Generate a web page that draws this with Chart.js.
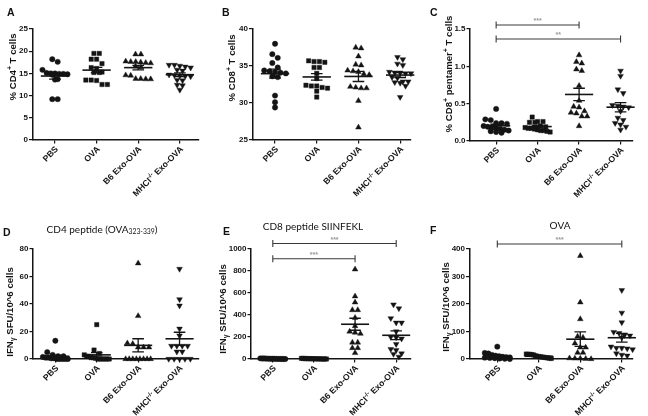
<!DOCTYPE html>
<html><head><meta charset="utf-8">
<script src="https://cdn.jsdelivr.net/npm/chart.js@4"></script>
<style>
body{margin:0;background:#fff;width:648px;height:416px;position:relative;overflow:hidden}
canvas{position:absolute}
.lt{position:absolute;font:bold 10.5px "Liberation Sans",Arial,sans-serif;line-height:10px;color:#111}
.tt{position:absolute;font:10px Lato,"Open Sans",sans-serif;line-height:1;color:#111;transform:translate(-50%,-50%);white-space:nowrap}
.tt sub{font-size:6.8px;vertical-align:-1px}
</style></head><body>
<canvas id="cA" width="216" height="200" style="left:0;top:0"></canvas>
<canvas id="cB" width="216" height="200" style="left:216px;top:0"></canvas>
<canvas id="cC" width="216" height="200" style="left:432px;top:0"></canvas>
<canvas id="cD" width="216" height="216" style="left:0;top:200px"></canvas>
<canvas id="cE" width="216" height="216" style="left:216px;top:200px"></canvas>
<canvas id="cF" width="216" height="216" style="left:432px;top:200px"></canvas>
<div class="lt" style="left:7px;top:7px">A</div>
<div class="lt" style="left:222px;top:7px">B</div>
<div class="lt" style="left:430px;top:7px">C</div>
<div class="lt" style="left:3px;top:227px">D</div>
<div class="lt" style="left:223px;top:226px">E</div>
<div class="lt" style="left:430px;top:225px">F</div>
<div class="tt" style="left:102px;top:229px">CD4 peptide (OVA<sub>323-339</sub>)</div>
<div class="tt" style="left:313px;top:226px">CD8 peptide SIINFEKL</div>
<div class="tt" style="left:560px;top:225px">OVA</div>
<script>
// ---------- categories / labels ----------
const groupNames = ['PBS', 'OVA', 'B6 Exo-OVA', 'MHCI^{-/-} Exo-OVA'];

// ---------- A: % CD4+ T cells ----------
const cd4_PBS = [18.2, 17.6, 15.8, 15.1, 15.0, 15.0, 14.9, 14.9, 14.8, 14.7, 13.7, 13.6, 9.2, 9.2];
const cd4_OVA = [19.5, 19.5, 18.2, 18.2, 17.2, 16.3, 16.1, 15.3, 15.2, 15.2, 13.5, 13.5, 13.4, 12.5, 12.5];
const cd4_B6 = [19.3, 19.3, 17.7, 17.6, 17.5, 17.4, 17.3, 17.6, 16.6, 16.4, 14.6, 14.5, 13.8, 13.7, 13.8, 13.7];
const cd4_MHC = [16.9, 16.7, 16.5, 16.9, 16.3, 15.8, 15.6, 14.7, 14.5, 14.3, 14.6, 14.4, 13.5, 13.4, 12.4, 12.3, 11.3];
const ticksA = [0, 5, 10, 15, 20, 25];

// ---------- B: % CD8+ T cells ----------
const cd8_PBS = [38.0, 36.6, 36.1, 35.4, 34.8, 34.2, 34.1, 34.0, 34.3, 34.4, 33.6, 33.5, 31.0, 30.1, 29.4];
const cd8_OVA = [35.6, 35.7, 35.5, 35.6, 34.8, 34.8, 34.0, 33.3, 32.3, 32.1, 32.0, 32.3, 32.4, 31.6, 30.8];
const cd8_B6 = [37.4, 37.5, 36.3, 35.2, 35.1, 34.3, 34.4, 34.2, 33.9, 33.8, 32.1, 32.0, 32.0, 32.2, 30.3, 26.7];
const cd8_MHC = [36.2, 35.9, 35.1, 35.3, 34.1, 34.0, 34.2, 34.0, 34.1, 33.5, 33.4, 32.9, 32.7, 32.9, 32.8, 32.3, 30.8];
const ticksB = [25, 30, 35, 40];

// ---------- C: % CD8+ pentamer+ T cells ----------
const pent_PBS = [0.43, 0.29, 0.28, 0.24, 0.23, 0.24, 0.20, 0.19, 0.18, 0.17, 0.16, 0.15, 0.14, 0.13, 0.12, 0.11];
const pent_OVA = [0.32, 0.26, 0.25, 0.25, 0.26, 0.20, 0.19, 0.18, 0.17, 0.17, 0.16, 0.15, 0.14, 0.14, 0.13, 0.12];
const pent_B6 = [1.15, 1.06, 1.04, 0.96, 0.94, 0.74, 0.54, 0.46, 0.45, 0.40, 0.38, 0.37, 0.33, 0.33, 0.20];
const pent_MHC = [0.94, 0.87, 0.69, 0.64, 0.48, 0.47, 0.46, 0.45, 0.40, 0.31, 0.28, 0.24, 0.22, 0.19, 0.15];
const ticksC = [0, 0.5, 1.0, 1.5];

// ---------- D: IFNg, CD4 peptide ----------
const cd4pep_PBS = [13.3, 5.0, 3.0, 2.0, 2.0, 1.5, 1.0, 1.0, 0.5, 0.5, 0, 0, 0, 0, 0];
const cd4pep_OVA = [25.0, 6.5, 4.0, 3.0, 2.0, 2.0, 1.0, 1.0, 0.5, 0, 0, 0, 0, 0, 0];
const cd4pep_B6 = [69.6, 31.3, 11.5, 11.0, 8.5, 8.5, 8.5, 0, 0, 0, 0, 0, 0, 0, 0];
const cd4pep_MHC = [65.5, 43.4, 38.8, 22.0, 17.0, 9.5, 9.5, 9.5, 9.5, 5.3, 5.3, 0, 0, 0, 0, 0];
const ticksD = [0, 20, 40, 60, 80];

// ---------- E: IFNg, CD8 peptide SIINFEKL ----------
const siin_PBS = [6, 5, 5, 4, 3, 3, 2, 2, 2, 1, 1, 1, 0, 0, 0];
const siin_OVA = [6, 5, 4, 4, 3, 3, 2, 2, 2, 1, 1, 1, 0, 0, 0, 0];
const siin_B6 = [815, 570, 515, 445, 445, 375, 300, 250, 240, 230, 150, 150, 100, 100, 55];
const siin_MHC = [495, 460, 370, 330, 330, 250, 200, 195, 185, 135, 90, 80, 50, 45, 20];
const ticksE = [0, 200, 400, 600, 800, 1000];

// ---------- F: IFNg, OVA ----------
const ova_PBS = [45, 22, 20, 15, 12, 10, 8, 7, 6, 5, 4, 3, 2, 1, 0];
const ova_OVA = [18, 17, 17, 16, 15, 12, 10, 9, 8, 7, 6, 5, 4, 3, 2];
const ova_B6 = [375, 206, 145, 82, 78, 57, 42, 42, 23, 23, 3, 2, 2, 1, 0];
const ova_MHC = [250, 168, 133, 98, 94, 87, 85, 78, 45, 40, 40, 38, 35, 20, 15, 12];
const ticksF = [0, 100, 200, 300, 400];

// ---------- significance brackets ----------
const sigC = [{from: 0, to: 2, y: 1.554, text: '***'}, {from: 0, to: 3, y: 1.366, text: '**'}];
const sigE = [{from: 0, to: 3, y: 1050, text: '***'}, {from: 0, to: 2, y: 912, text: '***'}];
const sigF = [{from: 0, to: 3, y: 418, text: '***'}];

const yTitles = {
  A: '% CD4^{+} T cells',
  B: '% CD8^{+} T cells',
  C: '% CD8^{+} pentamer^{+} T cells',
  IFN: 'IFN_{\u03b3} SFU/10^6 cells'
};

// ---------- helpers ----------
const FONT = '"Liberation Sans", Arial, sans-serif';
const INK = '#141414';
function richParts(str) {
  const out = [];
  str.split(/(\^\{[^}]*\}|_\{[^}]*\})/).forEach(s => {
    if (!s) return;
    if (s.startsWith('^{')) out.push({t: s.slice(2, -1), m: 1});
    else if (s.startsWith('_{')) out.push({t: s.slice(2, -1), m: -1});
    else out.push({t: s, m: 0});
  });
  return out;
}
function drawRich(ctx, str, size, align) {
  const ps = richParts(str);
  const fonts = ps.map(p => `bold ${p.m ? size * 0.72 : size}px ${FONT}`);
  const ws = ps.map((p, k) => { ctx.font = fonts[k]; return ctx.measureText(p.t).width; });
  const W = ws.reduce((a, b) => a + b, 0);
  let x0 = align === 'right' ? -W : align === 'center' ? -W / 2 : 0;
  ctx.textAlign = 'left'; ctx.textBaseline = 'middle';
  ps.forEach((p, k) => {
    ctx.font = fonts[k];
    ctx.fillText(p.t, x0, p.m === 1 ? -size * 0.32 : p.m === -1 ? size * 0.28 : 0);
    x0 += ws[k];
  });
}
function mean(a) { return a.reduce((s, v) => s + v, 0) / a.length; }
function sem(a) { const m = mean(a); return Math.sqrt(a.reduce((s, v) => s + (v - m) * (v - m), 0) / (a.length - 1)) / Math.sqrt(a.length); }
// column-scatter layout: values that share a row are spread horizontally
function swarm(vals, pyu, pxu, d, maxHalf) {
  const idx = vals.map((v, k) => k).sort((a, b) => vals[b] - vals[a]);
  const off = new Array(vals.length).fill(0);
  let row = [], start = null;
  const flush = () => {
    const n = row.length; let sp = d;
    if (n > 1 && (n - 1) * d > 2 * maxHalf) sp = 2 * maxHalf / (n - 1);
    row.forEach((k, j) => { off[k] = ((j - (n - 1) / 2) * sp) / pxu; });
    row = [];
  };
  idx.forEach(k => {
    if (row.length && (start - vals[k]) * pyu > d * 0.85) flush();
    if (!row.length) start = vals[k];
    row.push(k);
  });
  flush();
  return off;
}

const pStyles = ['circle', 'rect', 'triangle', 'triangle'];
const pRadius = [2.7, 3.1, 3.3, 3.3];
const pRot = [0, 0, 0, 180];

function overlay(P) {
  return {
    id: 'overlay',
    afterDatasetsDraw(chart) {
      const {ctx, chartArea: ca, scales: {x, y}} = chart;
      ctx.save();
      // mean +/- SEM
      ctx.strokeStyle = INK; ctx.lineCap = 'butt';
      P.data.forEach((vals, i) => {
        const m = mean(vals), s = sem(vals);
        const ym = y.getPixelForValue(m), yt = y.getPixelForValue(m + s), yb = y.getPixelForValue(m - s);
        const xc = x.getPixelForValue(i);
        ctx.lineWidth = 1.6;
        ctx.beginPath(); ctx.moveTo(x.getPixelForValue(i - 0.34), ym); ctx.lineTo(x.getPixelForValue(i + 0.34), ym); ctx.stroke();
        ctx.lineWidth = 1.3;
        ctx.beginPath(); ctx.moveTo(xc, yt); ctx.lineTo(xc, yb);
        ctx.moveTo(x.getPixelForValue(i - 0.14), yt); ctx.lineTo(x.getPixelForValue(i + 0.14), yt);
        ctx.moveTo(x.getPixelForValue(i - 0.14), yb); ctx.lineTo(x.getPixelForValue(i + 0.14), yb);
        ctx.stroke();
      });
      // brackets
      (P.sig || []).forEach(b => {
        const x1 = x.getPixelForValue(b.from), x2 = x.getPixelForValue(b.to), yy = y.getPixelForValue(b.y);
        ctx.strokeStyle = '#3a3a3a'; ctx.lineWidth = 1.1;
        ctx.beginPath(); ctx.moveTo(x1, yy); ctx.lineTo(x2, yy);
        ctx.moveTo(x1, yy - 3.5); ctx.lineTo(x1, yy + 3.5);
        ctx.moveTo(x2, yy - 3.5); ctx.lineTo(x2, yy + 3.5);
        ctx.stroke();
        ctx.fillStyle = '#9a9a9a'; ctx.font = `bold 7px ${FONT}`;
        ctx.textAlign = 'center'; ctx.textBaseline = 'alphabetic';
        ctx.fillText(b.text, (x1 + x2) / 2, yy - 2);
      });
      // category labels, rotated 45 degrees
      ctx.fillStyle = INK;
      groupNames.forEach((lab, i) => {
        ctx.save();
        ctx.translate(x.getPixelForValue(i) + 2, ca.bottom + 8);
        ctx.rotate(-Math.PI / 4);
        drawRich(ctx, lab, 8.6, 'right');
        ctx.restore();
      });
      // y-axis title
      ctx.save();
      ctx.translate(P.titleX - P.cx, P.titleY - P.cy);
      ctx.rotate(-Math.PI / 2);
      drawRich(ctx, P.yTitle, 9.6, 'center');
      ctx.restore();
      ctx.restore();
    }
  };
}

function makePanel(P) {
  const pyu = (P.B - P.T) / (P.ymax - P.ymin);
  const pxu = (P.R - P.L) / (P.xmax - P.xmin);
  const datasets = P.data.map((vals, i) => {
    const off = swarm(vals, pyu, pxu, 5.4, 12.5);
    return {
      data: vals.map((v, k) => ({x: i + off[k], y: v})),
      pointStyle: pStyles[i], pointRotation: pRot[i], radius: pRadius[i],
      backgroundColor: INK, borderColor: INK, borderWidth: 0.4, clip: false
    };
  });
  const axisGrid = {drawOnChartArea: false, drawTicks: true, tickLength: 3.5, color: INK, lineWidth: 1.2};
  const axisBorder = {display: true, color: INK, width: 1.5};
  new Chart(document.getElementById(P.id), {
    type: 'scatter',
    data: {datasets},
    options: {
      responsive: false, animation: false, events: [], devicePixelRatio: 1,
      layout: {padding: {top: P.T - P.cy, right: P.cx + P.cw - P.R, left: 0, bottom: 0}},
      plugins: {legend: {display: false}, tooltip: {enabled: false}},
      scales: {
        x: {
          type: 'linear', min: P.xmin, max: P.xmax,
          afterBuildTicks: s => { s.ticks = [0, 1, 2, 3].map(v => ({value: v})); },
          afterFit: s => { s.height = P.cy + P.ch - P.B; },
          ticks: {display: false}, grid: axisGrid, border: axisBorder
        },
        y: {
          type: 'linear', min: P.ymin, max: P.ymax,
          afterBuildTicks: s => { s.ticks = P.ticks.map(v => ({value: v})); },
          afterFit: s => { s.width = P.L - P.cx; },
          ticks: {color: INK, padding: 1, font: {family: FONT, size: 8, weight: 'bold'}, callback: v => P.fmt(v)},
          grid: axisGrid, border: axisBorder
        }
      }
    },
    plugins: [overlay(P)]
  });
}

const intFmt = v => String(v);
makePanel({id: 'cA', cx: 0, cy: 0, cw: 216, ch: 200, L: 32.5, T: 29, R: 199, B: 140, xmin: -0.54, xmax: 3.46,
  ymin: 0, ymax: 25, ticks: ticksA, fmt: intFmt, data: [cd4_PBS, cd4_OVA, cd4_B6, cd4_MHC],
  yTitle: yTitles.A, titleX: 13, titleY: 67});
makePanel({id: 'cB', cx: 216, cy: 0, cw: 216, ch: 200, L: 252.5, T: 29, R: 411, B: 140, xmin: -0.54, xmax: 3.26,
  ymin: 25, ymax: 40, ticks: ticksB, fmt: intFmt, data: [cd8_PBS, cd8_OVA, cd8_B6, cd8_MHC],
  yTitle: yTitles.B, titleX: 232, titleY: 68});
makePanel({id: 'cC', cx: 432, cy: 0, cw: 216, ch: 200, L: 470, T: 29, R: 633, B: 141, xmin: -0.63, xmax: 3.3,
  ymin: 0, ymax: 1.5, ticks: ticksC, fmt: v => v.toFixed(1), data: [pent_PBS, pent_OVA, pent_B6, pent_MHC],
  yTitle: yTitles.C, titleX: 449.5, titleY: 74, sig: sigC});
makePanel({id: 'cD', cx: 0, cy: 200, cw: 216, ch: 216, L: 33, T: 249, R: 199, B: 359, xmin: -0.54, xmax: 3.47,
  ymin: 0, ymax: 80, ticks: ticksD, fmt: intFmt, data: [cd4pep_PBS, cd4pep_OVA, cd4pep_B6, cd4pep_MHC],
  yTitle: yTitles.IFN, titleX: 10, titleY: 312});
makePanel({id: 'cE', cx: 216, cy: 200, cw: 216, ch: 216, L: 251, T: 249, R: 411, B: 359, xmin: -0.53, xmax: 3.36,
  ymin: 0, ymax: 1000, ticks: ticksE, fmt: intFmt, data: [siin_PBS, siin_OVA, siin_B6, siin_MHC],
  yTitle: yTitles.IFN, titleX: 223, titleY: 309, sig: sigE});
makePanel({id: 'cF', cx: 432, cy: 200, cw: 216, ch: 216, L: 469.5, T: 249, R: 633, B: 359, xmin: -0.67, xmax: 3.27,
  ymin: 0, ymax: 400, ticks: ticksF, fmt: intFmt, data: [ova_PBS, ova_OVA, ova_B6, ova_MHC],
  yTitle: yTitles.IFN, titleX: 446, titleY: 307, sig: sigF});
</script>
</body></html>
